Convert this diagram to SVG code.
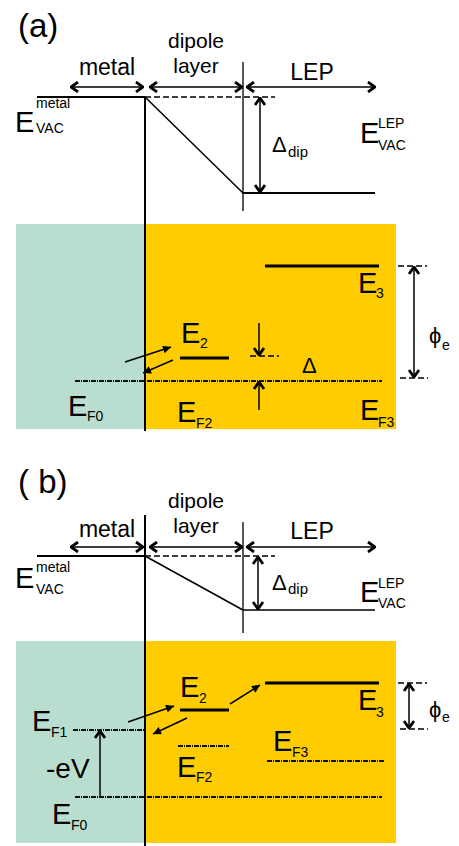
<svg xmlns="http://www.w3.org/2000/svg" width="459" height="846" viewBox="0 0 459 846">
<style>
text{font-family:"Liberation Sans",Arial,sans-serif;fill:#000}
.big{font-size:29px}
.sub{font-size:14px}
.lbl{font-size:23px}
.dl{font-size:21px}
.ttl{font-size:33px}
.ln{stroke:#000;fill:none}
.vac{stroke-width:2}
.lev{stroke-width:3}
.dot{stroke:#111;stroke-width:2;stroke-dasharray:5 1 1 1;fill:none}
.dash{stroke:#000;stroke-width:1.5;stroke-dasharray:6 3;fill:none}
.dbl{stroke:#000;stroke-width:1.5;fill:none;marker-start:url(#chev);marker-end:url(#chev)}
.one{stroke:#000;stroke-width:1.5;fill:none;marker-end:url(#chev)}
.tri{stroke:#000;stroke-width:1.5;fill:none;marker-end:url(#tri)}
.green{fill:#b9ddcf}
.yellow{fill:#ffcc00}
</style>
<defs>
<marker id="chev" markerUnits="userSpaceOnUse" viewBox="0 0 10 12" refX="9" refY="6" markerWidth="10" markerHeight="12" orient="auto-start-reverse">
<path d="M2,1 L9,6 L2,11" fill="none" stroke="#000" stroke-width="2.8"/>
</marker>
<marker id="tri" markerUnits="userSpaceOnUse" viewBox="0 0 10 10" refX="10" refY="5" markerWidth="10" markerHeight="8" orient="auto">
<path d="M0,0 L10,5 L0,10 z" fill="#000"/>
</marker>
</defs>

<!-- Panel (a) -->
<g id="panel-a">
<text id="a-title" class="ttl" x="18" y="37">(a)</text>
<g id="a-regions">
<rect class="green" x="16" y="224" width="129" height="205"/>
<rect class="yellow" x="145" y="224" width="251" height="205"/>
</g>
<g id="a-labels-top">
<text class="lbl" x="107" y="75" text-anchor="middle">metal</text>
<text class="dl" x="196" y="48" text-anchor="middle">dipole</text>
<text class="dl" x="196" y="73" text-anchor="middle">layer</text>
<text class="lbl" x="312" y="80" text-anchor="middle">LEP</text>
</g>
<g id="a-evac-metal"><text class="big" x="15" y="132">E</text><text class="sub" x="36" y="108">metal</text><text class="sub" x="36" y="133">VAC</text></g>
<g id="a-evac-lep"><text class="big" x="360" y="143">E</text><text class="sub" x="378" y="128">LEP</text><text class="sub" x="378" y="150">VAC</text></g>
<g id="a-ddip"><text style="font-size:22px" x="272" y="152">Δ</text><text style="font-size:15px" x="288" y="157">dip</text></g>
<g id="a-e2"><text class="big" x="181" y="343">E</text><text class="sub" x="200" y="348">2</text></g>
<g id="a-ef0"><text class="big" x="68" y="416">E</text><text class="sub" x="87" y="421">F0</text></g>
<g id="a-ef2"><text class="big" x="177" y="422">E</text><text class="sub" x="196" y="428">F2</text></g>
<g id="a-e3"><text class="big" x="358" y="293">E</text><text class="sub" x="376" y="298">3</text></g>
<g id="a-ef3"><text class="big" x="360" y="420">E</text><text class="sub" x="378" y="427">F3</text></g>
<g id="a-delta"><text style="font-size:22px" x="302" y="373">Δ</text></g>
<g id="a-phi"><text style="font-size:22px" x="429" y="343">ϕ</text><text class="sub" x="442" y="350">e</text></g>
<g id="a-connectors">
<line class="dbl" x1="71" y1="87" x2="143" y2="87"/>
<line class="dbl" x1="150" y1="87" x2="242" y2="87"/>
<line class="dbl" x1="247" y1="87" x2="375" y2="87"/>
<line class="ln vac" x1="37" y1="97" x2="145" y2="97"/>
<line class="dash" x1="145" y1="97" x2="275" y2="97"/>
<line class="ln vac" x1="145" y1="96" x2="145" y2="431"/>
<line class="ln" stroke-width="1.3" x1="243" y1="62" x2="243" y2="211"/>
<line class="ln" stroke-width="1.5" x1="145" y1="97" x2="243" y2="193"/>
<line class="ln vac" x1="243" y1="193" x2="375" y2="193"/>
<line class="dbl" x1="260" y1="98" x2="260" y2="192"/>
<line class="ln lev" x1="265" y1="266" x2="379" y2="266"/>
<line class="ln lev" x1="180" y1="358" x2="229" y2="358"/>
<line class="dot" x1="75" y1="381" x2="382" y2="381"/>
<line class="tri" x1="125" y1="362" x2="171" y2="347"/>
<line class="tri" x1="173" y1="360" x2="143" y2="373"/>
<line class="one" x1="259" y1="323" x2="259" y2="355"/>
<line class="dash" x1="250" y1="356" x2="279" y2="356"/>
<line class="one" x1="259" y1="410" x2="259" y2="382"/>
<line class="dash" x1="398" y1="266" x2="427" y2="266"/>
<line class="dash" x1="400" y1="378" x2="428" y2="378"/>
<line class="dbl" x1="414" y1="267" x2="414" y2="377"/>
</g>
</g>

<!-- Panel (b) -->
<g id="panel-b">
<text id="b-title" class="ttl" x="18" y="493">( b)</text>
<g id="b-regions">
<rect class="green" x="16" y="641" width="129" height="202"/>
<rect class="yellow" x="145" y="641" width="251" height="202"/>
</g>
<g id="b-labels-top">
<text class="lbl" x="107" y="537" text-anchor="middle">metal</text>
<text class="dl" x="196" y="508" text-anchor="middle">dipole</text>
<text class="dl" x="196" y="533" text-anchor="middle">layer</text>
<text class="lbl" x="312" y="539" text-anchor="middle">LEP</text>
</g>
<g id="b-evac-metal"><text class="big" x="15" y="588">E</text><text class="sub" x="36" y="572">metal</text><text class="sub" x="36" y="594">VAC</text></g>
<g id="b-evac-lep"><text class="big" x="360" y="602">E</text><text class="sub" x="378" y="588">LEP</text><text class="sub" x="378" y="608">VAC</text></g>
<g id="b-ddip"><text style="font-size:22px" x="272" y="590">Δ</text><text style="font-size:15px" x="288" y="594">dip</text></g>
<g id="b-ef1"><text class="big" x="32" y="731">E</text><text class="sub" x="51" y="737">F1</text></g>
<g id="b-ev"><text style="font-size:28px" x="46" y="778">-eV</text></g>
<g id="b-ef0"><text class="big" x="52" y="824">E</text><text class="sub" x="71" y="830">F0</text></g>
<g id="b-e2"><text class="big" x="180" y="697">E</text><text class="sub" x="199" y="703">2</text></g>
<g id="b-ef2"><text class="big" x="177" y="777">E</text><text class="sub" x="196" y="782">F2</text></g>
<g id="b-e3"><text class="big" x="358" y="710">E</text><text class="sub" x="376" y="717">3</text></g>
<g id="b-ef3"><text class="big" x="273" y="751">E</text><text class="sub" x="292" y="757">F3</text></g>
<g id="b-phi"><text style="font-size:22px" x="429" y="717">ϕ</text><text class="sub" x="442" y="722">e</text></g>
<g id="b-connectors">
<line class="dbl" x1="71" y1="547" x2="143" y2="547"/>
<line class="dbl" x1="150" y1="547" x2="242" y2="547"/>
<line class="dbl" x1="247" y1="547" x2="375" y2="547"/>
<line class="ln vac" x1="37" y1="556" x2="145" y2="556"/>
<line class="dash" x1="145" y1="556" x2="275" y2="556"/>
<line class="ln vac" x1="145" y1="515" x2="145" y2="846"/>
<line class="ln" stroke-width="1.3" x1="243" y1="522" x2="243" y2="633"/>
<line class="ln" stroke-width="1.5" x1="145" y1="556" x2="243" y2="610"/>
<line class="ln" stroke-width="1.5" x1="243" y1="610" x2="375" y2="610"/>
<line class="dbl" x1="258" y1="557" x2="258" y2="609"/>
<line class="ln lev" x1="265" y1="683" x2="379" y2="683"/>
<line class="ln lev" x1="180" y1="710" x2="229" y2="710"/>
<line class="dot" x1="73" y1="730" x2="145" y2="730"/>
<line class="dot" x1="178" y1="746" x2="229" y2="746"/>
<line class="dot" x1="267" y1="761" x2="384" y2="761"/>
<line class="dot" x1="75" y1="797" x2="382" y2="797"/>
<line class="one" x1="100" y1="797" x2="100" y2="731"/>
<line class="tri" x1="128" y1="722" x2="174" y2="706"/>
<line class="tri" x1="187" y1="718" x2="153" y2="734"/>
<line class="tri" x1="230" y1="704" x2="260" y2="685"/>
<line class="dash" x1="398" y1="683" x2="427" y2="683"/>
<line class="dash" x1="400" y1="729" x2="428" y2="729"/>
<line class="dbl" x1="409" y1="684" x2="409" y2="728"/>
</g>
</g>
</svg>
